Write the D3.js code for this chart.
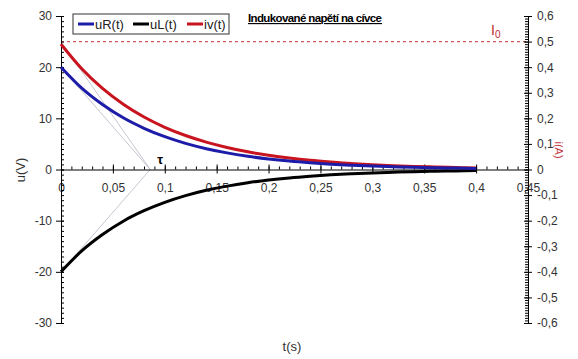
<!DOCTYPE html>
<html><head><meta charset="utf-8">
<script src="https://cdn.jsdelivr.net/npm/d3@7"></script>
<style>body{margin:0;background:#fff}text{font-family:"Liberation Sans",Arial,sans-serif}</style>
</head><body><svg id="c" width="578" height="359"></svg>
<script>
const times = [0,0.02,0.04,0.06,0.08,0.10,0.12,0.14,0.16,0.18,0.20,0.22,0.24,0.26,0.28,0.30,0.32,0.34,0.36,0.38,0.40];
const uR = [20,15.9,12.7,10.1,8.06,6.42,5.11,4.07,3.25,2.59,2.06,1.64,1.31,1.04,0.83,0.66,0.53,0.42,0.33,0.27,0.21];
const uL = [-20,-15.9,-12.7,-10.1,-8.06,-6.42,-5.11,-4.07,-3.25,-2.59,-2.06,-1.64,-1.31,-1.04,-0.83,-0.66,-0.53,-0.42,-0.33,-0.27,-0.21];
const iv = [0.49,0.394,0.317,0.255,0.205,0.165,0.133,0.107,0.086,0.069,0.056,0.045,0.036,0.029,0.023,0.0188,0.0151,0.0122,0.0098,0.0079,0.0063];
const tau = 0.086;
const I0 = 0.5;
const xTicks = [0,0.05,0.1,0.15,0.2,0.25,0.3,0.35,0.4,0.45];
const yLTicks = [-30,-20,-10,0,10,20,30];
const yRTicks = [-0.6,-0.5,-0.4,-0.3,-0.2,-0.1,0,0.1,0.2,0.3,0.4,0.5,0.6];
const seriesNames = ["uR(t)","uL(t)","iv(t)"];
const colors = {uR:"#1c1ca8", uL:"#000000", iv:"#c8141e"};

const svg = d3.select("#c");
const loc = d3.formatLocale({decimal:",", thousands:" ", grouping:[3], currency:["",""], minus:"-"});
const fmt = d => loc.format("")(+d.toFixed(2));

const x = d3.scaleLinear().domain([0,0.45]).range([61,528]);
const yL = d3.scaleLinear().domain([-30,30]).range([323,16]);
const yR = d3.scaleLinear().domain([-0.6,0.6]).range([323,16]);

// I0 dashed line
svg.append("line").attr("x1",x(0)).attr("x2",x(0.45)).attr("y1",yR(I0)).attr("y2",yR(I0))
  .attr("stroke","#d05a5a").attr("stroke-dasharray","3,3").attr("stroke-width",1.2);
const i0 = svg.append("text").attr("x",491).attr("y",35).attr("fill","#c0282e").attr("font-size",14);
i0.append("tspan").text("I");
i0.append("tspan").attr("font-size",10).attr("dy",3).text("0");

// tangent lines
const tang = [[0,25],[0,20],[0,-20]];
tang.forEach(p=>{
  svg.append("line").attr("x1",x(p[0])).attr("y1",yL(p[1])).attr("x2",x(tau)).attr("y2",yL(0))
    .attr("stroke","#b8b8c8").attr("stroke-width",0.8);
});

// axes
const gx = svg.append("g").attr("transform",`translate(0,${yL(0)})`);
gx.call(d3.axisBottom(x).tickValues(d3.range(0,46).map(i=>i/100)).tickSize(-3).tickFormat(""));
gx.call(g=>g.selectAll("path").remove());
const gx2 = svg.append("g").attr("transform",`translate(0,${yL(0)})`);
gx2.call(d3.axisBottom(x).tickValues(xTicks).tickSize(4).tickPadding(10).tickFormat(fmt));
gx2.selectAll(".tick line").attr("y1",-5);
gx2.selectAll("text").attr("font-size",12).attr("fill","#333").attr("font-family","Liberation Sans,Arial");

const gl = svg.append("g").attr("transform",`translate(${x(0)},0)`);
gl.call(d3.axisRight(yL).tickValues(d3.range(-30,31,1)).tickSize(3).tickFormat(""));
gl.select("path").remove();
const gl2 = svg.append("g").attr("transform",`translate(${x(0)},0)`);
gl2.call(d3.axisLeft(yL).tickValues(yLTicks).tickSize(5).tickPadding(4).tickFormat(d=>d));
gl2.selectAll(".tick line").attr("x1",3);
gl2.selectAll("text").attr("font-size",12).attr("fill","#333").attr("font-family","Liberation Sans,Arial");

const gr = svg.append("g").attr("transform",`translate(${x(0.45)},0)`);
gr.call(d3.axisLeft(yR).tickValues(d3.range(-60,61,1).map(i=>i/100)).tickSize(3).tickFormat(""));
gr.select("path").remove();
const gr2 = svg.append("g").attr("transform",`translate(${x(0.45)},0)`);
gr2.call(d3.axisRight(yR).tickValues(yRTicks).tickSize(4).tickPadding(5).tickFormat(fmt));
gr2.selectAll(".tick line").attr("x1",-4);
gr2.selectAll("text").attr("font-size",12).attr("fill","#333").attr("font-family","Liberation Sans,Arial");

svg.selectAll(".domain").attr("stroke","#000");
svg.selectAll(".tick line").attr("stroke","#000");

// curves
const lineL = d3.line().x((d,i)=>x(times[i])).y(d=>yL(d)).curve(d3.curveMonotoneX);
const lineR = d3.line().x((d,i)=>x(times[i])).y(d=>yR(d)).curve(d3.curveMonotoneX);
svg.append("path").attr("d",lineL(uL)).attr("fill","none").attr("stroke",colors.uL).attr("stroke-width",3);
svg.append("path").attr("d",lineR(iv)).attr("fill","none").attr("stroke",colors.iv).attr("stroke-width",3);
svg.append("path").attr("d",lineL(uR)).attr("fill","none").attr("stroke",colors.uR).attr("stroke-width",3);

// tau label
svg.append("text").attr("x",x(tau)+7).attr("y",yL(0)-6).attr("font-size",13).attr("font-weight","bold")
  .attr("font-family","Liberation Serif,serif").text("τ");

// axis titles
svg.append("text").attr("transform","translate(25,170) rotate(-90)").attr("text-anchor","middle")
  .attr("font-size",13).attr("fill","#333").text("u(V)");
svg.append("text").attr("transform","translate(555,150) rotate(90)").attr("text-anchor","middle")
  .attr("font-size",11).attr("fill","#c04048").text("i(A)");
svg.append("text").attr("x",292).attr("y",351).attr("text-anchor","middle")
  .attr("font-size",13).attr("fill","#333").text("t(s)");

// title
svg.append("text").attr("x",248).attr("y",22).attr("font-size",11.5).attr("font-weight","bold")
  .attr("textLength",134).attr("lengthAdjust","spacing").attr("text-decoration","underline").text("Indukované napětí na cívce");

// legend
svg.append("rect").attr("x",73).attr("y",14).attr("width",156).attr("height",20).attr("fill","#fff").attr("stroke","#333");
const legX = [78,133,187];
const legC = [colors.uR,colors.uL,colors.iv];
seriesNames.forEach((n,i)=>{
  svg.append("line").attr("x1",legX[i]).attr("x2",legX[i]+16).attr("y1",24).attr("y2",24).attr("stroke",legC[i]).attr("stroke-width",3);
  svg.append("text").attr("x",legX[i]+17).attr("y",29).attr("font-size",13).attr("fill","#222").text(n);
});
</script></body></html>
